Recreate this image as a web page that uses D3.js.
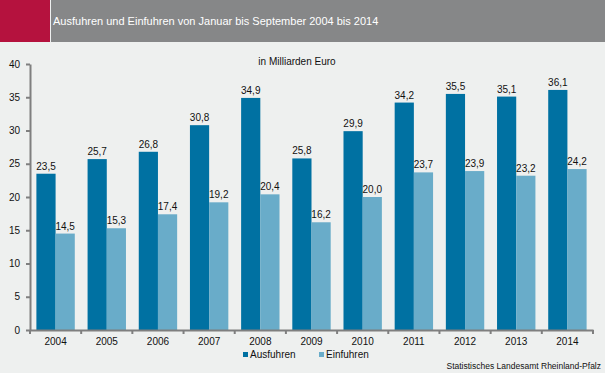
<!DOCTYPE html>
<html>
<head>
<meta charset="utf-8">
<script src="https://cdn.jsdelivr.net/npm/d3@7"></script>
<style>
	body { margin: 0; background: #eef0ef; }
	svg { display: block; font-family: 'Liberation Sans', Arial, sans-serif; }
</style>
</head>
<body>
<svg class="chart" width="605" height="373"></svg>
<script>
// data
const years = ['2004', '2005', '2006', '2007', '2008', '2009', '2010', '2011', '2012', '2013', '2014'];
const ausfuhren = [23.5, 25.7, 26.8, 30.8, 34.9, 25.8, 29.9, 34.2, 35.5, 35.1, 36.1];
const einfuhren = [14.5, 15.3, 17.4, 19.2, 20.4, 16.2, 20.0, 23.7, 23.9, 23.2, 24.2];
const seriesNames = ['Ausfuhren', 'Einfuhren'];
const yTicks = [0, 5, 10, 15, 20, 25, 30, 35, 40];

const colors = { Ausfuhren: '#0071a2', Einfuhren: '#69acc9' };
const margin = { top: 64, right: 12, bottom: 43, left: 30 };
const W = 605, H = 373;

const svg = d3.select('.chart');

svg.append('rect').attr('width', W).attr('height', H).attr('fill', '#eef0ef');

// header
svg.append('rect').attr('x', 0).attr('y', 0).attr('width', 50).attr('height', 42).attr('fill', '#b5123e');
svg.append('rect').attr('x', 51).attr('y', 0).attr('width', W - 51).attr('height', 42).attr('fill', '#868788');
svg.append('text')
	.attr('x', 53).attr('y', 25)
	.attr('fill', '#fff')
	.style('font-size', '11px')
	.text('Ausfuhren und Einfuhren von Januar bis September 2004 bis 2014');

svg.append('text')
	.attr('x', 297).attr('y', 65)
	.attr('text-anchor', 'middle')
	.style('font-size', '10px')
	.attr('fill', '#111')
	.text('in Milliarden Euro');

const x = d3.scaleBand().domain(years).range([margin.left, W - margin.right]).paddingInner(0.25).paddingOuter(0.125);
const x1 = d3.scaleBand().domain(seriesNames).range([0, x.bandwidth()]);
const y = d3.scaleLinear().domain([0, 40]).range([H - margin.bottom, margin.top]);

const rows = years.map((yr, i) => ({ year: yr, values: [ausfuhren[i], einfuhren[i]] }));

const groups = svg.append('g').selectAll('g')
	.data(rows)
	.enter().append('g')
	.attr('transform', d => 'translate(' + x(d.year) + ',0)');

groups.selectAll('rect')
	.data(d => d.values.map((v, j) => ({ key: seriesNames[j], value: v })))
	.enter().append('rect')
	.attr('x', d => x1(d.key))
	.attr('y', d => y(d.value))
	.attr('width', x1.bandwidth())
	.attr('height', d => y(0) - y(d.value))
	.attr('fill', d => colors[d.key]);

groups.selectAll('text')
	.data(d => d.values.map((v, j) => ({ key: seriesNames[j], value: v })))
	.enter().append('text')
	.attr('x', d => x1(d.key) + x1.bandwidth() / 2)
	.attr('y', d => y(d.value) - 4)
	.attr('text-anchor', 'middle')
	.style('font-size', '10px')
	.attr('fill', '#111')
	.text(d => d.value.toFixed(1).replace('.', ','));

// y axis
const yAxis = svg.append('g')
	.attr('transform', 'translate(' + margin.left + ',0)')
	.call(d3.axisLeft(y).tickValues(yTicks).tickSize(4).tickSizeOuter(0).tickPadding(6));

// x axis, ticks sit between the year groups
const xAxis = svg.append('g')
	.attr('transform', 'translate(0,' + y(0) + ')')
	.call(d3.axisBottom(x).tickSize(0).tickSizeOuter(0).tickPadding(8));

xAxis.selectAll('.tick').append('line')
	.attr('x1', x.step() / 2).attr('x2', x.step() / 2)
	.attr('y1', 0).attr('y2', 4);
xAxis.append('line')
	.attr('x1', margin.left).attr('x2', margin.left)
	.attr('y1', 0).attr('y2', 4);

[yAxis, xAxis].forEach(a => {
	a.selectAll('.domain').attr('stroke', '#7f7f7f').attr('stroke-width', 2);
	a.selectAll('line').attr('stroke', '#7f7f7f').attr('stroke-width', 2);
	a.selectAll('text').style('font-size', '10px').attr('fill', '#111').style('font-family', "'Liberation Sans', Arial, sans-serif");
});

// legend
const legend = svg.append('g').attr('transform', 'translate(243,358)');
const items = [{ key: 'Ausfuhren', dx: 0 }, { key: 'Einfuhren', dx: 76 }];
items.forEach(it => {
	legend.append('rect').attr('x', it.dx).attr('y', -6).attr('width', 5).attr('height', 5).attr('fill', colors[it.key]);
	legend.append('text').attr('x', it.dx + 7).attr('y', 0).style('font-size', '10px').attr('fill', '#111').text(it.key);
});

svg.append('text')
	.attr('x', 601).attr('y', 369)
	.attr('text-anchor', 'end')
	.style('font-size', '8.5px')
	.attr('fill', '#111')
	.text('Statistisches Landesamt Rheinland-Pfalz');
</script>
</body>
</html>
